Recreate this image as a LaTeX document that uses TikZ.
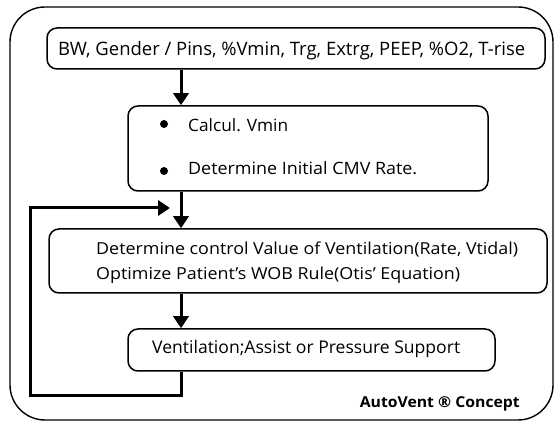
\documentclass[tikz,border=0pt]{standalone}
\usepackage{fontspec}
\usepackage{graphicx}
\setmainfont{Open Sans}
\usetikzlibrary{arrows.meta}
\tikzset{
  frame/.style={draw, line width=1.4pt, rounded corners=35pt},
  box/.style={draw, line width=1.5pt, rounded corners=10pt, inner sep=0pt, minimum width=#1},
  txt/.style={inner sep=0pt, anchor=base west},
  dot/.style={circle, fill, inner sep=0pt, minimum size=8pt},
  flow/.style={line width=3pt, -{Triangle[width=15pt,length=12pt]}},
  loopline/.style={line width=3pt},
}
\newcommand{\fitw}[3]{{\fontsize{#2}{#2}\selectfont\resizebox{#1}{\height}{#3}}}
\begin{document}
\begin{tikzpicture}[x=1pt,y=-1pt]
\useasboundingbox (0,0) rectangle (555,422);
\draw[frame] (10,7) rectangle (553,420);
% boxes
\node[box=498pt, minimum height=41pt] (b1) at (296,48.5) {};
\node[box=360pt, minimum height=85pt] (b2) at (308,148.5) {};
\node[box=498pt, minimum height=64pt] (b3) at (298,261) {};
\node[box=367pt, minimum height=42pt] (b4) at (311.5,350) {};
% texts
\node[txt] (t1) at (58,56) {\fitw{467pt}{18.5}{BW, Gender / Pins, \%Vmin, Trg, Extrg, PEEP, \%O2, T-rise}};
\node[dot] (d1) at (164,124) {};
\node[dot] (d2) at (164,171) {};
\node[txt] (i1) at (188,132) {\fitw{100pt}{17}{Calcul. Vmin}};
\node[txt] (i2) at (188,175) {\fitw{229pt}{17}{Determine Initial CMV Rate.}};
\node[txt] (t3a) at (96,255) {\fitw{422pt}{16.5}{Determine control Value of Ventilation(Rate, Vtidal)}};
\node[txt] (t3b) at (96,280) {\fitw{364pt}{16.5}{Optimize Patient’s WOB Rule(Otis’ Equation)}};
\node[txt] (t4) at (152,354) {\fitw{308pt}{17.5}{Ventilation;Assist or Pressure Support}};
\node[inner sep=0pt, anchor=base east] (lab) at (520,408) {\bfseries\fitw{160pt}{15}{\bfseries AutoVent ® Concept}};
% connectors
\draw[flow] (b1.south -| 181,0) -- (b2.north -| 181,0);
\draw[flow] (b2.south -| 181,0) -- (b3.north -| 181,0);
\draw[flow] (b3.south -| 181,0) -- (b4.north -| 181,0);
\coordinate (lb) at (181,396);
\coordinate (ll) at (30,396);
\coordinate (lt) at (30,208);
\coordinate (tip) at (170,208);
\draw[loopline] (b4.south -| 181,0) -- (lb) -- (ll) -- (lt) -- (150,208);
\draw[flow] (150,208) -- (tip);
\end{tikzpicture}
\end{document}
